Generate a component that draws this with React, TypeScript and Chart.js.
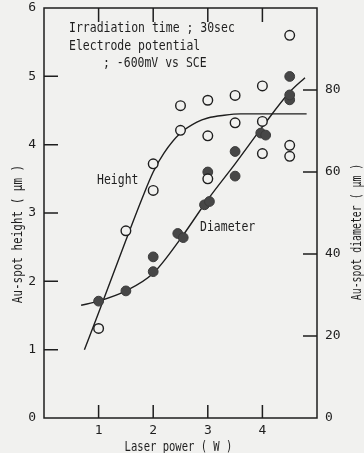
import React, { useEffect, useRef } from 'react';
import { Chart, registerables } from 'chart.js';
Chart.register(...registerables);

// Measured height (open circles), left axis, µm
const heightX = [1, 1.5, 2, 2, 2.5, 2.5, 3, 3, 3, 3.5, 3.5, 4, 4, 4, 4.5, 4.5, 4.5];
const heightY = [1.31, 2.74, 3.72, 3.33, 4.57, 4.21, 4.65, 4.13, 3.5, 4.72, 4.32, 4.86, 4.34, 3.87, 5.6, 3.99, 3.83];
// Measured diameter (filled circles), right axis, µm
const diamX = [1, 1.5, 2, 2, 2.45, 2.55, 2.94, 3.03, 3, 3.5, 3.5, 3.97, 4.06, 4.5, 4.5, 4.5];
const diamY = [28.5, 31.0, 39.3, 35.7, 45.0, 44.0, 52.0, 52.8, 60.0, 59.0, 65.0, 69.5, 69.0, 77.6, 78.8, 83.3];
// Fitted curves
const heightCurveX = [0.74, 1.0, 1.5, 1.8, 2.0, 2.2, 2.5, 2.8, 3.0, 3.3, 3.6, 4.0, 4.81];
const heightCurveY = [1.0, 1.54, 2.6, 3.22, 3.6, 3.88, 4.17, 4.33, 4.39, 4.43, 4.45, 4.45, 4.45];
const diamCurveX = [0.68, 1, 1.5, 2, 2.5, 3, 3.5, 4, 4.5, 4.78];
const diamCurveY = [27.5, 28.5, 31.0, 35.3, 43.7, 53.3, 62.0, 71.0, 79.5, 83.0];
// Tick label sets
const xTickLabels = [1, 2, 3, 4];
const yTicks = [1, 2, 3, 4, 5];
const y2Ticks = [20, 40, 60, 80];

const annotationLines = ['Irradiation time ; 30sec', 'Electrode potential', '; -600mV vs SCE'];
const xTitle = 'Laser power ( W )';
const yTitle = 'Au-spot height ( \u00b5m )';
const y2Title = 'Au-spot diameter ( \u00b5m )';

const BG = '#f1f1ef';
const INK = '#1e1e1e';
const MONO = '"DejaVu Sans Mono", "Liberation Mono", monospace';

function drawText(ctx: CanvasRenderingContext2D, text: string, x: number, y: number, size: number, sx: number, align: CanvasTextAlign, rot = 0) {
  ctx.save();
  ctx.translate(x, y);
  if (rot) ctx.rotate(rot);
  ctx.scale(sx, 1);
  ctx.font = `${size}px ${MONO}`;
  ctx.fillStyle = INK;
  ctx.textAlign = align;
  ctx.textBaseline = 'middle';
  ctx.fillText(text, 0, 0);
  ctx.restore();
}

const framePlugin = {
  id: 'framePlugin',
  afterDraw(chart: any) {
    const ctx: CanvasRenderingContext2D = chart.ctx;
    const { left, right, top, bottom } = chart.chartArea;
    const xs = chart.scales.x, ys = chart.scales.y, y2s = chart.scales.y2;
    ctx.save();
    ctx.strokeStyle = INK;
    ctx.lineWidth = 1.5;
    ctx.strokeRect(left, top, right - left, bottom - top);
    ctx.beginPath();
    const tl = 14;
    xTickLabels.forEach((v) => {
      const px = xs.getPixelForValue(v);
      ctx.moveTo(px, bottom); ctx.lineTo(px, bottom - 13);
      ctx.moveTo(px, top); ctx.lineTo(px, top + tl);
    });
    yTicks.forEach((v) => {
      const py = ys.getPixelForValue(v);
      ctx.moveTo(left, py); ctx.lineTo(left + tl, py);
    });
    y2Ticks.forEach((v) => {
      const py = y2s.getPixelForValue(v);
      ctx.moveTo(right, py); ctx.lineTo(right - tl, py);
    });
    ctx.stroke();
    ctx.restore();

    const fs = 13.5;
    drawText(ctx, annotationLines[0], left + 25, top + 20, fs, 0.85, 'left');
    drawText(ctx, annotationLines[1], left + 25, top + 38, fs, 0.85, 'left');
    drawText(ctx, annotationLines[2], left + 59, top + 55, fs, 0.85, 'left');
    drawText(ctx, 'Height', left + 53, top + 172, fs, 0.85, 'left');
    drawText(ctx, 'Diameter', left + 156, top + 219, fs, 0.85, 'left');

    drawText(ctx, xTitle, (left + right) / 2 - 2, 447, fs, 0.78, 'center');
    drawText(ctx, yTitle, 18, 234, fs, 0.81, 'center', -Math.PI / 2);
    drawText(ctx, y2Title, 357, 232, fs, 0.73, 'center', -Math.PI / 2);
  },
};

export default function App() {
  const ref = useRef<HTMLCanvasElement | null>(null);
  useEffect(() => {
    if (!ref.current) return;
    const tickFont = { family: MONO, size: 13 };
    const fitY = (w: number) => (s: any) => {
      s.width = w;
      s.paddingTop = 0;
      s.paddingBottom = 0;
    };
    const chart = new Chart(ref.current, {
      type: 'scatter',
      data: {
        datasets: [
          {
            label: 'Height',
            data: heightX.map((x, i) => ({ x, y: heightY[i] })),
            yAxisID: 'y',
            pointRadius: 4.8,
            pointBorderWidth: 1.4,
            pointBorderColor: INK,
            pointBackgroundColor: BG,
            order: 0,
          },
          {
            label: 'Diameter',
            data: diamX.map((x, i) => ({ x, y: diamY[i] })),
            yAxisID: 'y2',
            pointRadius: 4.9,
            pointBorderWidth: 1,
            pointBorderColor: '#3a3a3a',
            pointBackgroundColor: '#474747',
            order: 0,
          },
          {
            label: 'Height fit',
            type: 'line',
            data: heightCurveX.map((x, i) => ({ x, y: heightCurveY[i] })),
            yAxisID: 'y',
            borderColor: INK,
            borderWidth: 1.4,
            pointRadius: 0,
            cubicInterpolationMode: 'monotone',
            fill: false,
            order: 1,
          },
          {
            label: 'Diameter fit',
            type: 'line',
            data: diamCurveX.map((x, i) => ({ x, y: diamCurveY[i] })),
            yAxisID: 'y2',
            borderColor: INK,
            borderWidth: 1.4,
            pointRadius: 0,
            cubicInterpolationMode: 'monotone',
            fill: false,
            order: 1,
          },
        ],
      },
      options: {
        animation: false,
        responsive: false,
        maintainAspectRatio: false,
        layout: { padding: { top: 8, left: 0, right: 0, bottom: 0 } },
        plugins: { legend: { display: false }, tooltip: { enabled: false } },
        scales: {
          x: {
            type: 'linear',
            min: 0,
            max: 5,
            position: 'bottom',
            grid: { display: false, drawTicks: false },
            border: { display: false },
            ticks: {
              stepSize: 1,
              color: INK,
              font: tickFont,
              padding: 5,
              maxRotation: 0,
              callback: (v: any) => (xTickLabels.includes(Number(v)) ? String(v) : ''),
            },
            afterFit: (s: any) => { s.height = 35; s.paddingLeft = 0; s.paddingRight = 0; },
          },
          y: {
            type: 'linear',
            min: 0,
            max: 6,
            position: 'left',
            grid: { display: false, drawTicks: false },
            border: { display: false },
            ticks: { stepSize: 1, color: INK, font: tickFont, padding: 8 },
            afterFit: fitY(44),
          },
          y2: {
            type: 'linear',
            min: 0,
            max: 100,
            position: 'right',
            grid: { display: false, drawTicks: false },
            border: { display: false },
            ticks: {
              stepSize: 20,
              color: INK,
              font: tickFont,
              padding: 8,
              callback: (v: any) => (Number(v) === 100 ? '' : String(v)),
            },
            afterFit: fitY(47),
          },
        },
      },
      plugins: [framePlugin],
    } as any);
    return () => chart.destroy();
  }, []);
  return (
    <div style={{ position: 'absolute', left: 0, top: 0, width: 364, height: 453, background: BG }}>
      <canvas ref={ref} width={364} height={453} style={{ display: 'block' }} />
    </div>
  );
}
